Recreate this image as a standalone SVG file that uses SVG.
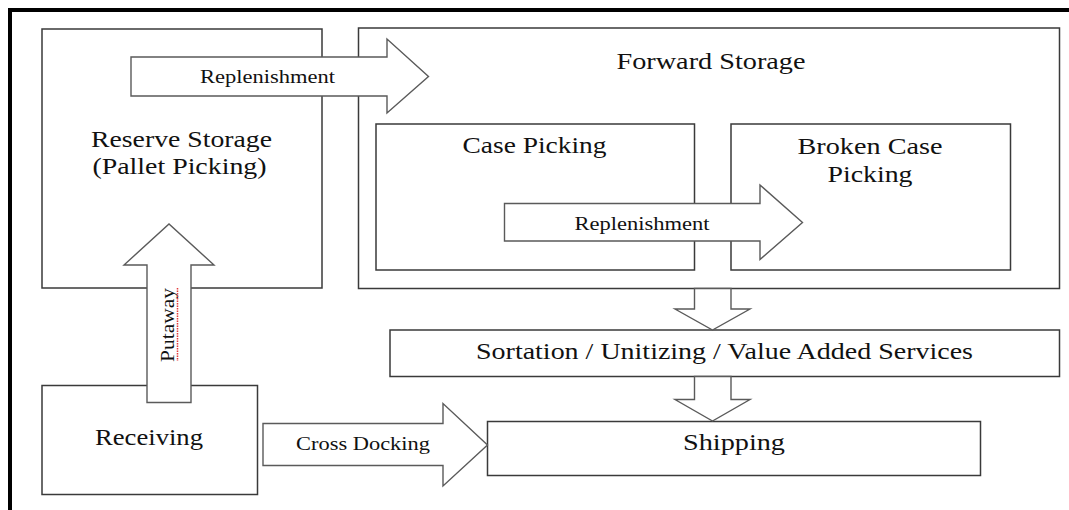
<svg xmlns="http://www.w3.org/2000/svg" width="1069" height="510" viewBox="0 0 1069 510">
  <style>
    .box { fill: #ffffff; stroke: #3a3a3a; stroke-width: 1.5; }
    .arrow { fill: #ffffff; stroke: #5a5a5a; stroke-width: 1.4; stroke-linejoin: miter; }
    .lbl { font-family: "Liberation Serif", "Times New Roman", serif; fill: #111111; text-anchor: middle; }
    .big { font-size: 23px; }
    .small { font-size: 18px; }
  </style>

  <rect width="1069" height="510" fill="#ffffff"/>

  <!-- outer frame (runs past the right and bottom edges) -->
  <path d="M10 512 V10 H1071" fill="none" stroke="#000000" stroke-width="4"/>

  <g id="reserve-storage">
    <rect class="box" x="42" y="29" width="280" height="259"/>
    <text class="lbl big" x="181.5" y="147" textLength="181" lengthAdjust="spacingAndGlyphs">Reserve Storage</text>
    <text class="lbl big" x="179.5" y="174" textLength="174" lengthAdjust="spacingAndGlyphs">(Pallet Picking)</text>
  </g>

  <g id="forward-storage">
    <rect class="box" x="358.5" y="28" width="701" height="260.5"/>
    <text class="lbl big" x="711" y="68.5" textLength="189" lengthAdjust="spacingAndGlyphs">Forward Storage</text>
  </g>

  <g id="case-picking">
    <rect class="box" x="376" y="124" width="318.5" height="146"/>
    <text class="lbl big" x="534.5" y="152.5" textLength="144" lengthAdjust="spacingAndGlyphs">Case Picking</text>
  </g>

  <g id="broken-case-picking">
    <rect class="box" x="731" y="124" width="279.5" height="146"/>
    <text class="lbl big" x="870" y="153.5" textLength="145" lengthAdjust="spacingAndGlyphs">Broken Case</text>
    <text class="lbl big" x="870" y="182" textLength="85" lengthAdjust="spacingAndGlyphs">Picking</text>
  </g>

  <g id="sortation">
    <rect class="box" x="390" y="330" width="669.5" height="46.5"/>
    <text class="lbl big" x="724.5" y="358.5" textLength="497" lengthAdjust="spacingAndGlyphs">Sortation / Unitizing / Value Added Services</text>
  </g>

  <g id="receiving">
    <rect class="box" x="42" y="385.5" width="215.5" height="109"/>
    <text class="lbl big" x="149" y="445" textLength="108" lengthAdjust="spacingAndGlyphs">Receiving</text>
  </g>

  <g id="shipping">
    <rect class="box" x="487.5" y="421.5" width="493" height="54"/>
    <text class="lbl big" x="734" y="450" textLength="102" lengthAdjust="spacingAndGlyphs">Shipping</text>
  </g>

  <g id="connectors">
    <!-- reserve -> forward replenishment -->
    <polygon class="arrow" points="131,57 387,57 387,39 428.5,76.5 387,113 387,96 131,96"/>
    <text class="lbl small" x="267.5" y="82.5" textLength="135" lengthAdjust="spacingAndGlyphs">Replenishment</text>

    <!-- case -> broken case replenishment -->
    <polygon class="arrow" points="504.5,203.5 760,203.5 760,185 802.5,222.5 760,259.5 760,241 504.5,241"/>
    <text class="lbl small" x="642" y="230" textLength="135" lengthAdjust="spacingAndGlyphs">Replenishment</text>

    <!-- receiving -> reserve putaway -->
    <polygon class="arrow" points="147,402.5 147,265 124,265 169,224 214,265 191,265 191,402.5"/>
    <text class="lbl small" transform="translate(173.5,325) rotate(-90)" x="0" y="0" font-size="19" textLength="74" lengthAdjust="spacingAndGlyphs">Putaway</text>
    <!-- spell-check squiggle under the label -->
    <line x1="177.5" y1="288" x2="177.5" y2="361" stroke="#e23b3b" stroke-width="1.5" stroke-dasharray="1.5 1"/>

    <!-- receiving -> shipping cross docking -->
    <polygon class="arrow" points="263,423.5 443,423.5 443,403.5 487.5,445 443,486 443,465.5 263,465.5"/>
    <text class="lbl small" x="363" y="450" textLength="134" lengthAdjust="spacingAndGlyphs">Cross Docking</text>

    <!-- forward -> sortation -->
    <polygon class="arrow" points="694.5,288.5 731,288.5 731,309 750,309 712.5,330 675,309 694.5,309"/>

    <!-- sortation -> shipping -->
    <polygon class="arrow" points="694.5,376.5 731,376.5 731,399.5 750,399.5 712.5,421 675,399.5 694.5,399.5"/>
  </g>
</svg>
